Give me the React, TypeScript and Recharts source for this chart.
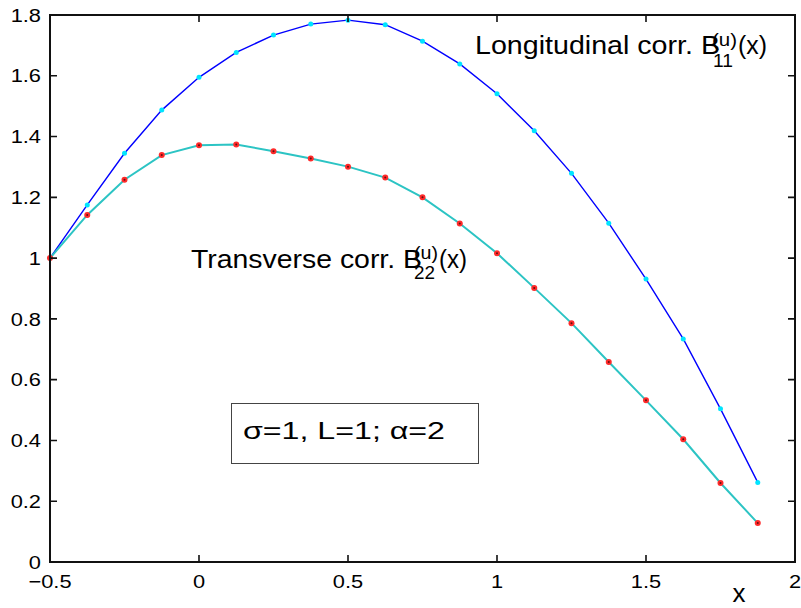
import React from 'react';
import { LineChart, Line, XAxis, YAxis } from 'recharts';

// sample points along x
const xValues = [
    -0.5, -0.375, -0.25, -0.125, 0, 0.125, 0.25, 0.375, 0.5, 0.625, 0.75,
    0.875, 1, 1.125, 1.25, 1.375, 1.5, 1.625, 1.75, 1.875,
];

// longitudinal correlation B11
const longitudinal = [
    1.0, 1.175, 1.345, 1.487, 1.595, 1.677, 1.734, 1.77, 1.783, 1.768, 1.714,
    1.639, 1.541, 1.419, 1.279, 1.115, 0.931, 0.734, 0.504, 0.262,
];

// transverse correlation B22
const transverse = [
    1.0, 1.142, 1.258, 1.339, 1.371, 1.374, 1.352, 1.328, 1.301, 1.265, 1.2,
    1.114, 1.016, 0.902, 0.786, 0.658, 0.532, 0.404, 0.26, 0.128,
];

const xTicks = [-0.5, 0, 0.5, 1, 1.5, 2];
const yTicks = [0, 0.2, 0.4, 0.6, 0.8, 1, 1.2, 1.4, 1.6, 1.8];
const xDomain = [-0.5, 2];
const yDomain = [0, 1.8];

const data = xValues.map((x, i) => ({
    x,
    b11: longitudinal[i],
    b22: transverse[i],
}));

const FONT = '"Liberation Sans", Arial, Helvetica, sans-serif';
const W = 801;
const H = 608;
const TICK_LEN = 7;

// plot box, must agree with the chart margins + axis sizes below
const MARGIN = { top: 15, right: 6, bottom: 16, left: 6 };
const X_AXIS_H = 30;
const Y_AXIS_W = 44;
const PL = MARGIN.left + Y_AXIS_W;
const PR = W - MARGIN.right;
const PT = MARGIN.top;
const PB = H - MARGIN.bottom - X_AXIS_H;

const sx = (v: number) =>
    PL + ((v - xDomain[0]) / (xDomain[1] - xDomain[0])) * (PR - PL);
const sy = (v: number) =>
    PB - ((v - yDomain[0]) / (yDomain[1] - yDomain[0])) * (PB - PT);

const fmt = (v: number) => String(v).replace('-', '\u2212');

// tick labels are a bit wider than the font, like the original figure
const BottomLabel = (props: any) => {
    const { x, y, payload } = props;
    return (
        <text
            transform={`translate(${x},${y}) scale(1.18,1)`}
            textAnchor="middle"
            dy="0.72em"
            fontSize={18.5}
            fontFamily={FONT}
            fill="#000"
        >
            {fmt(payload.value)}
        </text>
    );
};

const LeftLabel = (props: any) => {
    const { x, y, payload } = props;
    return (
        <text
            transform={`translate(${x},${y}) scale(1.18,1)`}
            textAnchor="end"
            dy="0.36em"
            fontSize={18.5}
            fontFamily={FONT}
            fill="#000"
        >
            {fmt(payload.value)}
        </text>
    );
};

const CyanDot = (props: any) => {
    const { cx, cy, index } = props;
    if (cx == null || cy == null) return null;
    return <circle key={'c' + index} cx={cx} cy={cy} r={2.5} fill="#00e5ff" />;
};

const RedDot = (props: any) => {
    const { cx, cy, index } = props;
    if (cx == null || cy == null) return null;
    return (
        <g key={'r' + index}>
            <circle cx={cx} cy={cy} r={3} fill="#ff2a2a" />
            <circle cx={cx} cy={cy} r={1} fill="#601010" />
        </g>
    );
};

// matlab style box with inward ticks on all four sides
const Frame = () => {
    let d = '';
    xTicks.forEach((t) => {
        const x = sx(t);
        d += `M${x},${PB}v${-TICK_LEN}M${x},${PT}v${TICK_LEN}`;
    });
    yTicks.forEach((t) => {
        const y = sy(t);
        d += `M${PL},${y}h${TICK_LEN}M${PR},${y}h${-TICK_LEN}`;
    });
    return (
        <g>
            <rect x={PL} y={PT} width={PR - PL} height={PB - PT} fill="none" stroke="#111" strokeWidth={2} />
            <path d={d} stroke="#111" strokeWidth={1.6} fill="none" />
        </g>
    );
};

const Annotations = () => (
    <svg
        width={W}
        height={H}
        style={{ position: 'absolute', left: 0, top: 0, pointerEvents: 'none' }}
        fontFamily={FONT}
    >
        <Frame />

        <text x={475} y={54} fontSize={26} textLength={245} lengthAdjust="spacingAndGlyphs">
            Longitudinal corr. B
        </text>
        <text x={712} y={46} fontSize={18} textLength={25} lengthAdjust="spacingAndGlyphs">
            (u)
        </text>
        <text x={713} y={67} fontSize={19} textLength={20} lengthAdjust="spacingAndGlyphs">
            11
        </text>
        <text x={738} y={54} fontSize={26} textLength={29} lengthAdjust="spacingAndGlyphs">
            (x)
        </text>

        <text x={191} y={268} fontSize={25} textLength={231} lengthAdjust="spacingAndGlyphs">
            Transverse corr. B
        </text>
        <text x={414} y={259} fontSize={18} textLength={24} lengthAdjust="spacingAndGlyphs">
            (u)
        </text>
        <text x={414} y={279} fontSize={19} textLength={21} lengthAdjust="spacingAndGlyphs">
            22
        </text>
        <text x={439} y={268} fontSize={25} textLength={28} lengthAdjust="spacingAndGlyphs">
            (x)
        </text>

        <rect x={231.5} y={403.5} width={247} height={60} fill="none" stroke="#444" strokeWidth={1} />
        <text x={243} y={439} fontSize={24} textLength={202} lengthAdjust="spacingAndGlyphs">
            σ=1, L=1; α=2
        </text>

        <text x={739} y={602} fontSize={26} textAnchor="middle">
            x
        </text>
    </svg>
);

const App = () => {
    return (
        <div
            style={{
                position: 'absolute',
                left: 0,
                top: 0,
                width: W,
                height: H,
                background: '#fff',
            }}
        >
            <LineChart width={W} height={H} data={data} margin={MARGIN}>
                <XAxis
                    dataKey="x"
                    type="number"
                    domain={xDomain}
                    ticks={xTicks}
                    height={X_AXIS_H}
                    tickSize={0}
                    tickMargin={13}
                    axisLine={false}
                    tickLine={false}
                    tick={<BottomLabel />}
                    interval={0}
                />
                <YAxis
                    type="number"
                    domain={yDomain}
                    ticks={yTicks}
                    width={Y_AXIS_W}
                    tickSize={0}
                    tickMargin={9}
                    axisLine={false}
                    tickLine={false}
                    tick={<LeftLabel />}
                    interval={0}
                />
                <Line
                    type="linear"
                    dataKey="b11"
                    stroke="#0000ff"
                    strokeWidth={1.4}
                    dot={<CyanDot />}
                    activeDot={false}
                    isAnimationActive={false}
                />
                <Line
                    type="linear"
                    dataKey="b22"
                    stroke="#2cc4c4"
                    strokeWidth={2}
                    dot={<RedDot />}
                    activeDot={false}
                    isAnimationActive={false}
                />
            </LineChart>
            <Annotations />
        </div>
    );
};

export default App;
